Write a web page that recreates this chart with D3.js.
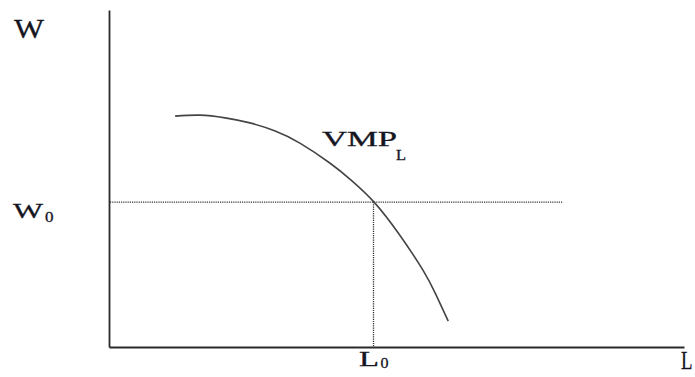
<!DOCTYPE html>
<html>
<head>
<meta charset="utf-8">
<script src="https://cdn.jsdelivr.net/npm/d3@7/dist/d3.min.js"></script>
<style>
  html, body { margin: 0; padding: 0; background: #fff; }
  svg { display: block; }
  text { font-family: "Liberation Serif", "DejaVu Serif", serif; fill: #15151f; stroke: #15151f; stroke-width: 0.3; }
</style>
</head>
<body>
<svg id="chart" width="695" height="377"></svg>
<script>
// Labour demand curve (value of marginal product of labour), in axis units 0..100
const curveL = [11.5, 15.8, 20.2, 24.5, 28.9, 33.2, 38.4, 42.2, 46.1, 50.4, 54.6, 56.9, 59.0];
const curveW = [68.5, 68.8, 68.0, 66.5, 64.1, 60.5, 54.6, 49.4, 43.0, 33.6, 22.8, 15.4, 7.7];

// Equilibrium wage and employment
const W0 = 43;
const L0 = 46;
const wageLineEnd = 79;

// Text labels
const axisLabelY = "W";
const axisLabelX = "L";
const curveLabel = ["VMP", "L"];
const wageLabel = ["W", "0"];
const labourLabel = ["L", "0"];

const svg = d3.select("#chart");

const x = d3.scaleLinear().domain([0, 100]).range([109, 684]);
const y = d3.scaleLinear().domain([0, 100]).range([347, 10]);

// Axes drawn as bare lines (no ticks)
const yAxis = d3.axisLeft(y).tickValues([]).tickSizeOuter(0);
const xAxis = d3.axisBottom(x).tickValues([]).tickSizeOuter(0);
svg.append("g").attr("transform", `translate(${x(0)},0)`).call(yAxis)
  .select(".domain").attr("stroke", "#2a2a2a").attr("stroke-width", 1.8);
svg.append("g").attr("transform", `translate(0,${y(0)})`).call(xAxis)
  .select(".domain").attr("stroke", "#2a2a2a").attr("stroke-width", 1.8);

// Dotted guide lines at the equilibrium
svg.append("line")
  .attr("x1", x(0) + 1).attr("x2", x(wageLineEnd))
  .attr("y1", y(W0)).attr("y2", y(W0))
  .attr("stroke", "#333").attr("stroke-width", 1.3)
  .attr("stroke-dasharray", "1.2,1");
svg.append("line")
  .attr("x1", x(L0)).attr("x2", x(L0))
  .attr("y1", y(W0)).attr("y2", y(0))
  .attr("stroke", "#333").attr("stroke-width", 1.3)
  .attr("stroke-dasharray", "1.2,1");

// VMP_L curve
const pts = curveL.map((l, i) => [l, curveW[i]]);
const line = d3.line().x(d => x(d[0])).y(d => y(d[1])).curve(d3.curveNatural);
svg.append("path")
  .attr("d", line(pts))
  .attr("fill", "none")
  .attr("stroke", "#444")
  .attr("stroke-width", 1.6);

// Text helper: a main glyph run plus an optional subscript
function label(main, sub, mx, my, mSize, mWidth, sx, sy, sSize, sWidth) {
  svg.append("text").attr("x", mx).attr("y", my)
    .attr("font-size", mSize)
    .attr("textLength", mWidth).attr("lengthAdjust", "spacingAndGlyphs")
    .text(main);
  if (sub) {
    svg.append("text").attr("x", sx).attr("y", sy)
      .attr("font-size", sSize)
      .attr("textLength", sWidth).attr("lengthAdjust", "spacingAndGlyphs")
      .text(sub);
  }
}

label(axisLabelY, null, 14, 38, 28, 30);
label(axisLabelX, null, 681, 369, 26, 11.5);
label(wageLabel[0], wageLabel[1], 13, y(W0) + 16, 22, 30, 45, y(W0) + 19.5, 15, 8.5);
label(labourLabel[0], labourLabel[1], x(L0) - 14.5, 366, 20, 20, x(L0) + 7, 368, 15, 8);
label(curveLabel[0], curveLabel[1], 322, 145.5, 20, 75, 396, 160, 15, 10);
</script>
</body>
</html>
